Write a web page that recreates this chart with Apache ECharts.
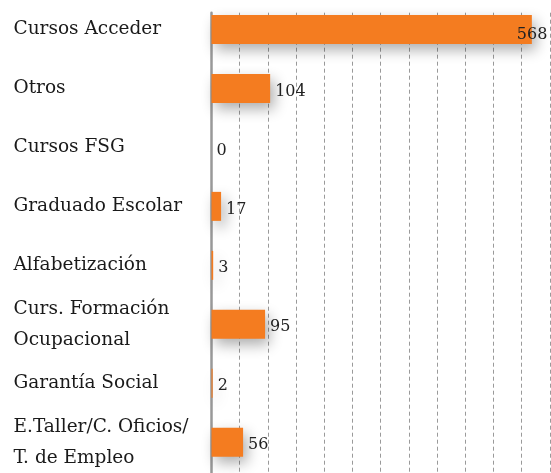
<!DOCTYPE html>
<html><head><meta charset="utf-8">
<script src="https://cdn.jsdelivr.net/npm/echarts@6/dist/echarts.min.js"></script>
<style>html,body{margin:0;padding:0;background:#fff}#c{width:551px;height:473px}</style>
</head><body><div id="c"></div>
<script>
const categories = ['Cursos Acceder', 'Otros', 'Cursos FSG', 'Graduado Escolar', 'Alfabetización',
  'Curs. Formación\nOcupacional', 'Garantía Social', 'E.Taller/C. Oficios/\nT. de Empleo'];
const values = [568, 104, 0, 17, 3, 95, 2, 56];
const axisMin = 0;
const axisMax = 600;
const axisInterval = 50;

const FONT = 'DejaVu Serif';
const chart = echarts.init(document.getElementById('c'), null, {renderer: 'canvas'});
const left = 211.5, width = 338.4;

const seriesData = values.map(v => {
  const item = {value: v};
  if (v > 0.9 * axisMax) {
    item.label = {offset: [-20, 5]};
  }
  return item;
});

chart.setOption({
  animation: false,
  backgroundColor: '#fff',
  grid: [
    {left: left, width: width, top: -2.5, height: 475.4},
    {left: left, width: width, top: 12.7, height: 480}
  ],
  xAxis: [
    {gridIndex: 0, type: 'value', min: axisMin, max: axisMax, show: false},
    {gridIndex: 1, type: 'value', min: axisMin, max: axisMax, interval: axisInterval,
      axisLine: {show: false}, axisTick: {show: false}, axisLabel: {show: false},
      splitLine: {show: true, lineStyle: {color: '#9a9a9a', width: 1, type: [4, 3]}}}
  ],
  yAxis: [
    {gridIndex: 0, type: 'category', data: categories, inverse: true,
      axisLine: {show: false}, axisTick: {show: false}, splitLine: {show: false},
      axisLabel: {show: true, align: 'left', margin: 198, color: '#1a1a1a',
        fontFamily: FONT, fontSize: 18.5, lineHeight: 31}},
    {gridIndex: 1, type: 'value', min: 0, max: 1,
      axisLine: {show: true, lineStyle: {color: '#999', width: 2.5}},
      axisTick: {show: false}, axisLabel: {show: false}, splitLine: {show: false}}
  ],
  series: [{
    type: 'bar', xAxisIndex: 0, yAxisIndex: 0,
    data: seriesData,
    barWidth: 29,
    z: 3,
    itemStyle: {color: '#F47C20', shadowColor: 'rgba(0,0,0,0.32)', shadowBlur: 14,
      shadowOffsetX: 4, shadowOffsetY: 6},
    label: {show: true, position: 'right', distance: 5, offset: [0, 3],
      color: '#222', fontFamily: FONT, fontSize: 16}
  }]
});
</script></body></html>
